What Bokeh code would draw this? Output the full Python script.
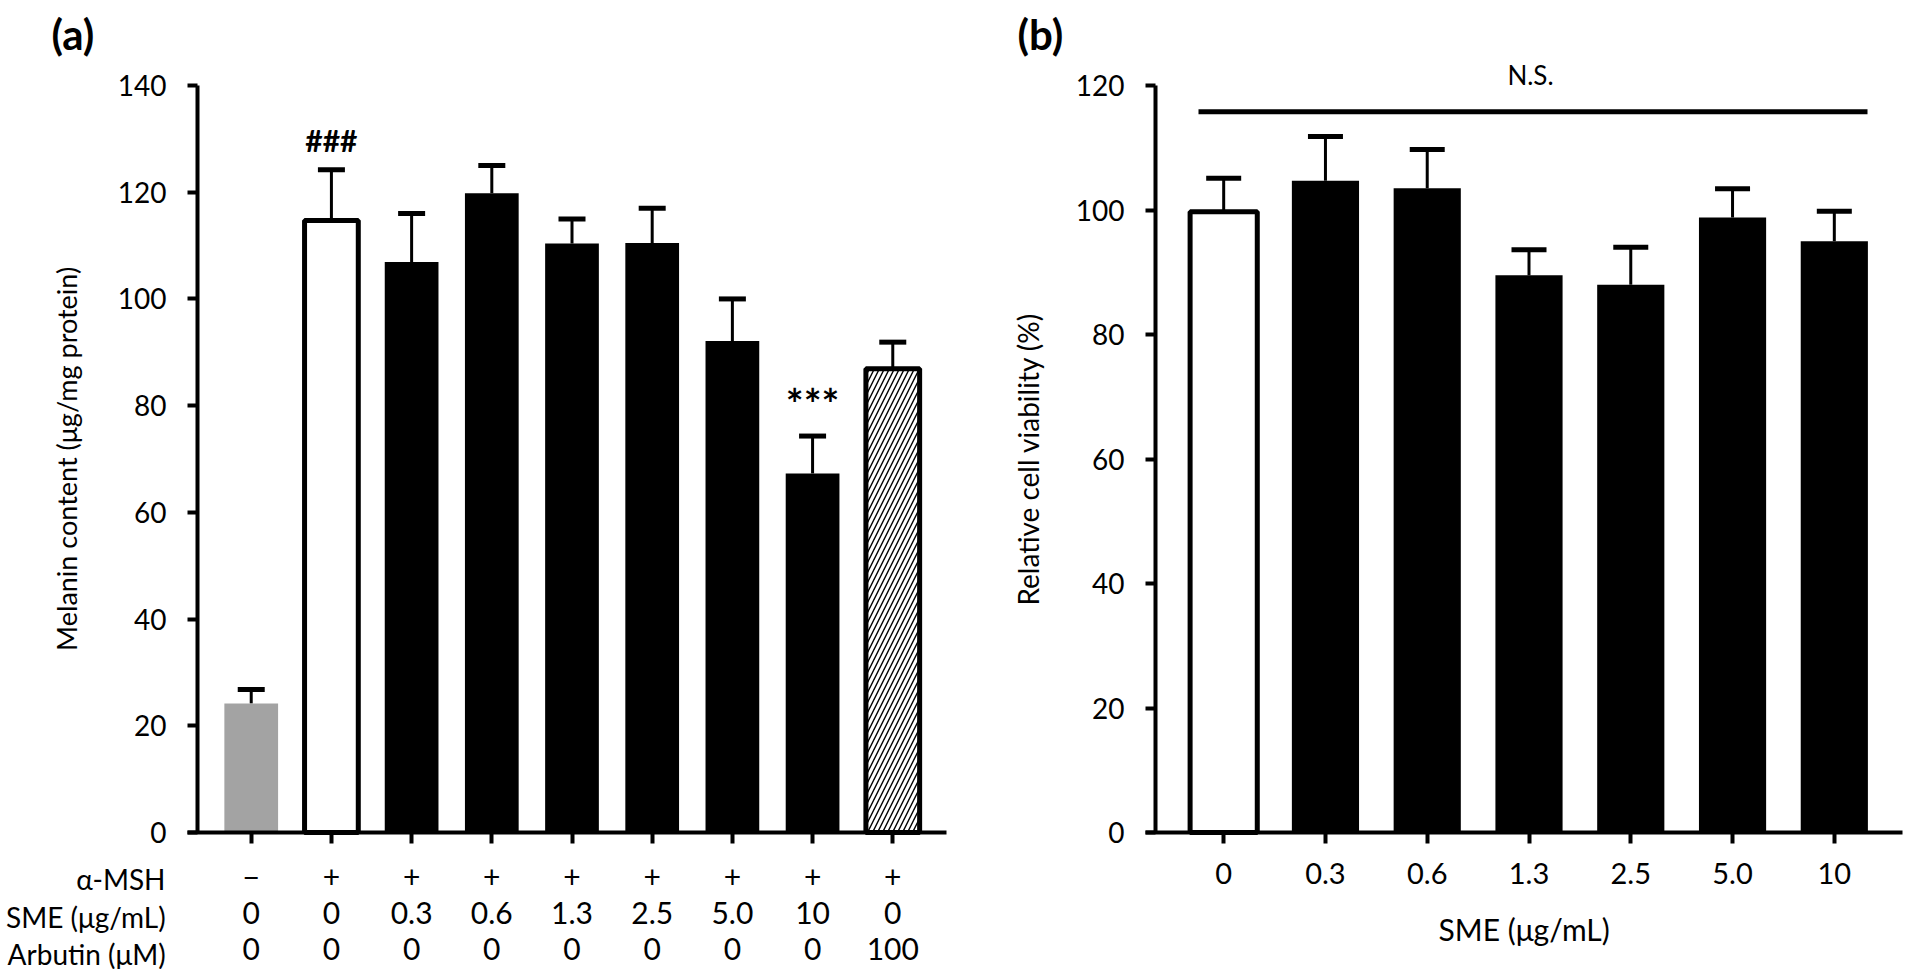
from bokeh.plotting import figure
from bokeh.layouts import row
from bokeh.models import Range1d, FixedTicker, Whisker, TeeHead, ColumnDataSource
from bokeh.embed import file_html
from bokeh.resources import INLINE
from bokeh.core.properties import value

FONT = "Lato"

# ---------------- data: panel (a) ----------------
msh_signs = ["\u2212", "+", "+", "+", "+", "+", "+", "+", "+"]
sme_a = ["0", "0", "0.3", "0.6", "1.3", "2.5", "5.0", "10", "0"]
arbutin_a = ["0", "0", "0", "0", "0", "0", "0", "0", "100"]
group_a = ["control", "msh", "sme", "sme", "sme", "sme", "sme", "sme", "arbutin"]
melanin = [24.2, 114.7, 106.9, 119.8, 110.4, 110.5, 92.1, 67.3, 86.9]
melanin_err = [2.6, 9.5, 9.1, 5.2, 4.6, 6.5, 7.9, 7.0, 5.0]
row_titles = ["\u03b1-MSH", "SME (\u03bcg/mL)", "Arbutin (\u03bcM)"]
yticks_a = [0, 20, 40, 60, 80, 100, 120, 140]
sig_idx = [1, 7]
sig_text = ["###", "***"]

# ---------------- data: panel (b) ----------------
sme_b = ["0", "0.3", "0.6", "1.3", "2.5", "5.0", "10"]
group_b = ["control", "sme", "sme", "sme", "sme", "sme", "sme"]
viability = [99.7, 104.7, 103.5, 89.5, 88.0, 98.8, 95.0]
viability_err = [5.4, 7.1, 6.2, 4.1, 6.0, 4.6, 4.8]
yticks_b = [0, 20, 40, 60, 80, 100, 120]
ns_level = 115.8

# ---------------- pixel layout (screen px) ----------------
H = 969
Y0_PX, YTOP_PX = 832, 85          # y = 0 and y = max
WA, A_AXIS, A_END = 1000, 197, 946
WB, B_AXIS, B_END = 905, 155, 902  # relative to panel (b) canvas
PAD = 0.67
BAR_W = 0.67


class Geo:
    def __init__(self, n, w, axis_px, end_px, ymax):
        self.ppx = (end_px - axis_px) / (n - 1 + 2 * PAD)
        self.ppy = (Y0_PX - YTOP_PX) / ymax
        self.axis_px = axis_px
        self.xr = Range1d(-PAD - axis_px / self.ppx, (n - 1 + PAD) + (w - end_px) / self.ppx)
        self.yr = Range1d(-(H - Y0_PX) / self.ppy, ymax + YTOP_PX / self.ppy)

    def x(self, px):
        return -PAD + (px - self.axis_px) / self.ppx

    def y(self, px):
        return (Y0_PX - px) / self.ppy


def make_fig(w, geo):
    p = figure(width=w, height=H, x_range=geo.xr, y_range=geo.yr, output_backend="svg",
               toolbar_location=None, min_border=0, min_border_left=0, min_border_right=0,
               min_border_top=0, min_border_bottom=0)
    p.outline_line_color = None
    p.xgrid.visible = False
    p.ygrid.visible = False
    p.background_fill_color = "white"
    p.border_fill_color = "white"
    for ax in (p.xaxis[0], p.yaxis[0]):
        ax.axis_line_width = 4
        ax.axis_line_color = "black"
        ax.major_tick_line_width = 4
        ax.major_tick_line_color = "black"
        ax.major_tick_in = 0
        ax.minor_tick_line_color = None
        ax.major_label_text_font = FONT
        ax.major_label_text_color = "black"
        ax.axis_label_text_font = FONT
        ax.axis_label_text_font_style = "normal"
        ax.axis_label_text_color = "black"
    p.xaxis[0].major_tick_out = 11
    p.yaxis[0].major_tick_out = 10
    p.yaxis[0].major_label_text_font_size = "28px"
    p.yaxis[0].major_label_standoff = 21
    p.xaxis[0].fixed_location = 0
    p.yaxis[0].fixed_location = -PAD
    return p


def add_errors(p, xs, tops, errs, cap):
    src = ColumnDataSource(dict(x=xs, lower=tops, upper=[t + e for t, e in zip(tops, errs)]))
    p.add_layout(Whisker(source=src, base="x", lower="lower", upper="upper", dimension="height",
                         line_width=3, line_color="black",
                         upper_head=TeeHead(size=cap, line_width=5, line_color="black"),
                         lower_head=None))


def sub(xs, vals, groups, g):
    return [x for x, k in zip(xs, groups) if k == g], [v for v, k in zip(vals, groups) if k == g]


def txt(p, x, y, t, size, align="center", style="normal", baseline="middle"):
    p.text(x=[x], y=[y], text=[t], text_font=value(FONT), text_font_size=size,
           text_font_style=style, text_align=align, text_baseline=baseline, text_color="black")


# ================= panel (a) =================
xa = list(range(len(melanin)))
ga = Geo(len(xa), WA, A_AXIS, A_END, 140)
pa = make_fig(WA, ga)

add_errors(pa, xa, melanin, melanin_err, 27)
gx, gy = sub(xa, melanin, group_a, "control")
pa.vbar(x=gx, top=gy, width=BAR_W, fill_color="#a3a3a3", line_color=None)
gx, gy = sub(xa, melanin, group_a, "msh")
pa.vbar(x=gx, top=gy, width=BAR_W, fill_color="white", line_color="black", line_width=5)
gx, gy = sub(xa, melanin, group_a, "sme")
pa.vbar(x=gx, top=gy, width=BAR_W, fill_color="black", line_color=None)
gx, gy = sub(xa, melanin, group_a, "arbutin")
pa.vbar(x=gx, top=gy, width=BAR_W, fill_color="white", line_color="black", line_width=5,
        hatch_pattern="/", hatch_color="black", hatch_weight=1.4, hatch_scale=10)

# significance marks above the error caps
sig_size = {"###": "30px", "***": "42px"}
sig_gap = {"###": 5.5, "***": 6.0}
for i, t in zip(sig_idx, sig_text):
    txt(pa, xa[i], melanin[i] + melanin_err[i] + sig_gap[t], t, sig_size[t], style="bold")

pa.yaxis.ticker = FixedTicker(ticks=yticks_a)
pa.yaxis.bounds = (0, 140)
pa.yaxis.axis_label = "Melanin content (\u03bcg/mg protein)"
pa.yaxis.axis_label_text_font_size = "27px"
pa.yaxis.axis_label_standoff = 32
pa.xaxis.ticker = FixedTicker(ticks=xa)
pa.xaxis.bounds = (-PAD - 10 / ga.ppx, len(xa) - 1 + PAD)
pa.xaxis.major_label_overrides = {i: f"{m}\n{s}\n{a}" for i, (m, s, a) in enumerate(zip(msh_signs, sme_a, arbutin_a))}
pa.xaxis.major_label_text_font_size = "30px"
pa.xaxis.major_label_text_line_height = 1.0
pa.xaxis.major_label_standoff = 14

for t, py in zip(row_titles, [878, 916, 953]):
    txt(pa, ga.x(165), ga.y(py), t, "28px", align="right")
txt(pa, ga.x(51), ga.y(33), "(a)", "42px", align="left", style="bold", baseline="alphabetic")

# ================= panel (b) =================
xb = list(range(len(viability)))
gb = Geo(len(xb), WB, B_AXIS, B_END, 120)
pb = make_fig(WB, gb)
add_errors(pb, xb, viability, viability_err, 35)
gx, gy = sub(xb, viability, group_b, "control")
pb.vbar(x=gx, top=gy, width=0.66, fill_color="white", line_color="black", line_width=5)
gx, gy = sub(xb, viability, group_b, "sme")
pb.vbar(x=gx, top=gy, width=0.66, fill_color="black", line_color=None)

pb.segment(x0=[gb.x(198)], y0=[ns_level], x1=[gb.x(867)], y1=[ns_level],
           line_width=5, line_color="black")
txt(pb, gb.x(530), gb.y(74), "N.S.", "26px")
txt(pb, gb.x(17), gb.y(33), "(b)", "42px", align="left", style="bold", baseline="alphabetic")

pb.yaxis.ticker = FixedTicker(ticks=yticks_b)
pb.yaxis.bounds = (0, 120)
pb.yaxis.axis_label = "Relative cell viability (%)"
pb.yaxis.axis_label_text_font_size = "28px"
pb.yaxis.axis_label_standoff = 28
pb.xaxis.ticker = FixedTicker(ticks=xb)
pb.xaxis.bounds = (-PAD - 10 / gb.ppx, len(xb) - 1 + PAD)
pb.xaxis.major_label_overrides = {i: s for i, s in enumerate(sme_b)}
pb.xaxis.major_label_text_font_size = "29px"
pb.xaxis.major_label_standoff = 19
pb.xaxis.axis_label = "SME (\u03bcg/mL)"
pb.xaxis.axis_label_text_font_size = "30px"
pb.xaxis.axis_label_standoff = 24

layout = row(pa, pb)
open("out.html", "w").write(file_html(layout, INLINE))
